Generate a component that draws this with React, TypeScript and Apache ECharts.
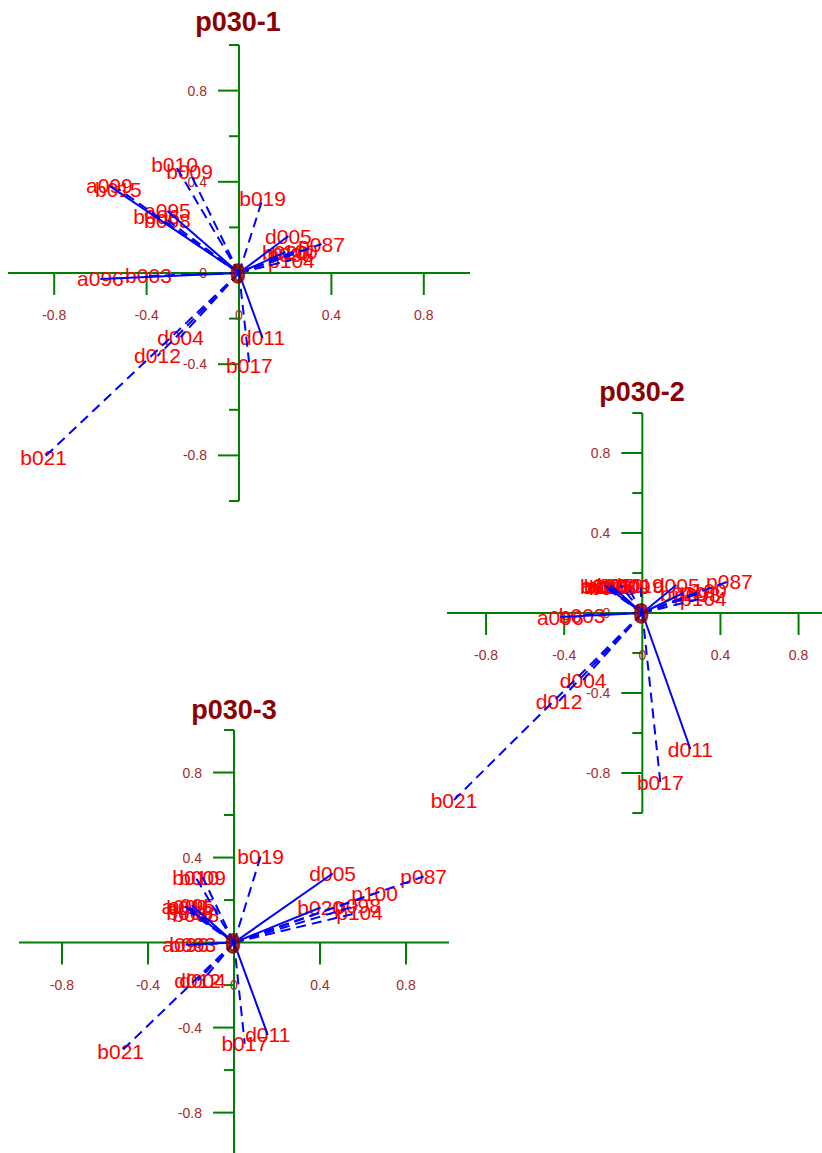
import React, { useEffect, useRef } from 'react';
import * as echarts from 'echarts';

const FONT = "'Liberation Sans', Arial, Helvetica, sans-serif";

const varNames = ['a095', 'a096', 'a099', 'b003', 'b006', 'b008', 'b009', 'b010', 'b015', 'b017', 'b019', 'b020', 'b021', 'd004', 'd005', 'd011', 'd012', 'p087', 'p098', 'p100', 'p104'];
const lineKinds = ['solid', 'solid', 'solid', 'dashed', 'dashed', 'dashed', 'dashed', 'dashed', 'dashed', 'dashed', 'dashed', 'solid', 'dashed', 'dashed', 'solid', 'solid', 'dashed', 'dashed', 'dashed', 'dashed', 'dashed'];

const panel1X = [-0.31, -0.6, -0.561, -0.392, -0.357, -0.31, -0.214, -0.279, -0.522, 0.045, 0.102, 0.201, -0.846, -0.253, 0.214, 0.102, -0.353, 0.357, 0.223, 0.24, 0.227];
const panel1Y = [0.272, -0.026, 0.382, -0.013, 0.246, 0.232, 0.443, 0.478, 0.368, -0.404, 0.325, 0.092, -0.811, -0.281, 0.162, -0.285, -0.364, 0.127, 0.079, 0.096, 0.057];

const panel2X = [-0.164, -0.42, -0.195, -0.308, -0.2, -0.154, -0.077, -0.113, -0.18, 0.092, -0.01, 0.21, -0.964, -0.303, 0.174, 0.246, -0.426, 0.446, 0.282, 0.313, 0.313];
const panel2Y = [0.14, -0.02, 0.14, -0.01, 0.135, 0.13, 0.135, 0.14, 0.135, -0.845, 0.14, 0.1, -0.935, -0.335, 0.14, -0.68, -0.44, 0.16, 0.095, 0.115, 0.075];

const panel3X = [-0.197, -0.225, -0.229, -0.192, -0.206, -0.178, -0.146, -0.178, -0.206, 0.05, 0.124, 0.403, -0.527, -0.146, 0.459, 0.157, -0.169, 0.882, 0.575, 0.654, 0.584];
const panel3Y = [0.175, -0.01, 0.17, -0.01, 0.142, 0.132, 0.307, 0.307, 0.165, -0.476, 0.406, 0.165, -0.514, -0.179, 0.325, -0.434, -0.179, 0.311, 0.175, 0.231, 0.142];

const panelTitles = ['p030-1', 'p030-2', 'p030-3'];
const xTickLabels = [-0.8, -0.4, 0, 0.4, 0.8];
const yTickLabels = [0.8, 0.4, 0, -0.4, -0.8];
const xMajorTicks = [-0.8, -0.4, 0.4, 0.8];
const yMajorTicks = [-0.8, -0.4, 0.4, 0.8];
const yMinorTicks = [-1, -0.6, -0.2, 0.2, 0.6, 1];

const panels = [
  { xs: panel1X, ys: panel1Y, xMax: 1, yMin: -1, grid: { left: 8, top: 45, width: 462, height: 456 }, title: { x: 238, y: 22 } },
  { xs: panel2X, ys: panel2Y, xMax: 0.92, yMin: -1, grid: { left: 447, top: 413, width: 375, height: 400 }, title: { x: 642, y: 392 } },
  { xs: panel3X, ys: panel3Y, xMax: 1, yMin: -0.99, grid: { left: 19, top: 730, width: 430, height: 423 }, title: { x: 234, y: 710 } },
];

const GREEN = '#008000';
const TICK_COLOR = '#a52a2a';

function buildOption() {
  const grids: any[] = [];
  const xAxes: any[] = [];
  const yAxes: any[] = [];
  const series: any[] = [];
  const graphic: any[] = [];

  panels.forEach((p, i) => {
    grids.push({ ...p.grid, show: false, containLabel: false });
    xAxes.push({ type: 'value', gridIndex: i, min: -1, max: p.xMax, show: false });
    yAxes.push({ type: 'value', gridIndex: i, min: p.yMin, max: 1, show: false });

    // axis lines
    series.push({
      type: 'line', xAxisIndex: i, yAxisIndex: i, z: 1, silent: true, symbol: 'none',
      data: [[-1, 0], [p.xMax, 0]], lineStyle: { color: GREEN, width: 2 },
    });
    series.push({
      type: 'line', xAxisIndex: i, yAxisIndex: i, z: 1, silent: true, symbol: 'none',
      data: [[0, p.yMin], [0, 1]], lineStyle: { color: GREEN, width: 2 },
    });

    // ticks: kind 0 = x major, 1 = y major, 2 = y minor
    const tickData: number[][] = [
      ...xMajorTicks.map((v) => [v, 0, 0]),
      ...yMajorTicks.map((v) => [0, v, 1]),
      ...yMinorTicks.filter((v) => v >= p.yMin).map((v) => [0, v, 2]),
    ];
    series.push({
      type: 'custom', xAxisIndex: i, yAxisIndex: i, z: 1, silent: true,
      data: tickData, encode: { x: 0, y: 1 },
      renderItem: (_params: any, api: any) => {
        const kind = api.value(2);
        const c = api.coord([api.value(0), api.value(1)]);
        let shape;
        if (kind === 0) shape = { x1: c[0], y1: c[1], x2: c[0], y2: c[1] + 22 };
        else if (kind === 1) shape = { x1: c[0] - 21, y1: c[1], x2: c[0], y2: c[1] };
        else shape = { x1: c[0] - 10, y1: c[1], x2: c[0], y2: c[1] };
        return { type: 'line', shape, style: { stroke: GREEN, lineWidth: 2 } };
      },
    });

    // tick labels: kind 0 = x label, 1 = y label
    const labelData: number[][] = [
      ...xTickLabels.map((v) => [v, 0, 0]),
      ...yTickLabels.map((v) => [0, v, 1]),
    ];
    series.push({
      type: 'custom', xAxisIndex: i, yAxisIndex: i, z: 2, silent: true,
      data: labelData, encode: { x: 0, y: 1 },
      renderItem: (_params: any, api: any) => {
        const kind = api.value(2);
        const vx = api.value(0);
        const vy = api.value(1);
        const c = api.coord([vx, vy]);
        const text = String(kind === 0 ? vx : vy);
        return {
          type: 'text',
          x: kind === 0 ? c[0] : c[0] - 32,
          y: kind === 0 ? c[1] + 42 : c[1],
          style: {
            text, fill: TICK_COLOR, fontSize: 14, fontFamily: FONT,
            align: kind === 0 ? 'center' : 'right', verticalAlign: 'middle',
          },
        };
      },
    });

    // variable labels
    series.push({
      type: 'custom', xAxisIndex: i, yAxisIndex: i, z: 3, silent: true,
      data: p.xs.map((x, k) => [x, p.ys[k], k]), encode: { x: 0, y: 1 },
      renderItem: (_params: any, api: any) => {
        const k = api.value(2);
        const c = api.coord([api.value(0), api.value(1)]);
        return {
          type: 'text', x: c[0], y: c[1],
          style: { text: varNames[k], fill: '#ff0000', fontSize: 21, fontFamily: FONT, align: 'center', verticalAlign: 'middle' },
        };
      },
    });

    // vectors
    series.push({
      type: 'custom', xAxisIndex: i, yAxisIndex: i, z: 4, silent: true,
      data: p.xs.map((x, k) => [x, p.ys[k], k]), encode: { x: 0, y: 1 },
      renderItem: (_params: any, api: any) => {
        const k = api.value(2);
        const o = api.coord([0, 0]);
        const c = api.coord([api.value(0), api.value(1)]);
        const style: any = { stroke: '#0000ff', lineWidth: 2 };
        if (lineKinds[k] === 'dashed') style.lineDash = [10, 6];
        return { type: 'line', shape: { x1: o[0], y1: o[1], x2: c[0], y2: c[1] }, style };
      },
    });

    // origin zero
    series.push({
      type: 'scatter', xAxisIndex: i, yAxisIndex: i, z: 6, silent: true,
      symbolSize: 1, itemStyle: { color: 'rgba(0,0,0,0)' },
      data: [[0, 0]],
      label: {
        show: true, position: 'inside', formatter: '0', offset: [-1, 1],
        color: '#8b0000', fontSize: 27, fontWeight: 'bold', fontFamily: FONT,
        textBorderColor: '#8b0000', textBorderWidth: 1.5,
      },
    });

    graphic.push({
      type: 'text', x: p.title.x, y: p.title.y, z: 10,
      style: { text: panelTitles[i], fill: '#8b0000', fontSize: 27, fontWeight: 'bold', fontFamily: FONT, align: 'center', verticalAlign: 'middle' },
    });
  });

  return {
    animation: false,
    backgroundColor: '#ffffff',
    grid: grids,
    xAxis: xAxes,
    yAxis: yAxes,
    series,
    graphic,
  };
}

export default function App() {
  const ref = useRef<HTMLDivElement>(null);
  useEffect(() => {
    if (!ref.current) return;
    const chart = echarts.init(ref.current, undefined, { renderer: 'svg' });
    chart.setOption(buildOption() as any);
    return () => chart.dispose();
  }, []);
  return <div ref={ref} style={{ position: 'absolute', left: 0, top: 0, width: 822, height: 1153 }} />;
}
